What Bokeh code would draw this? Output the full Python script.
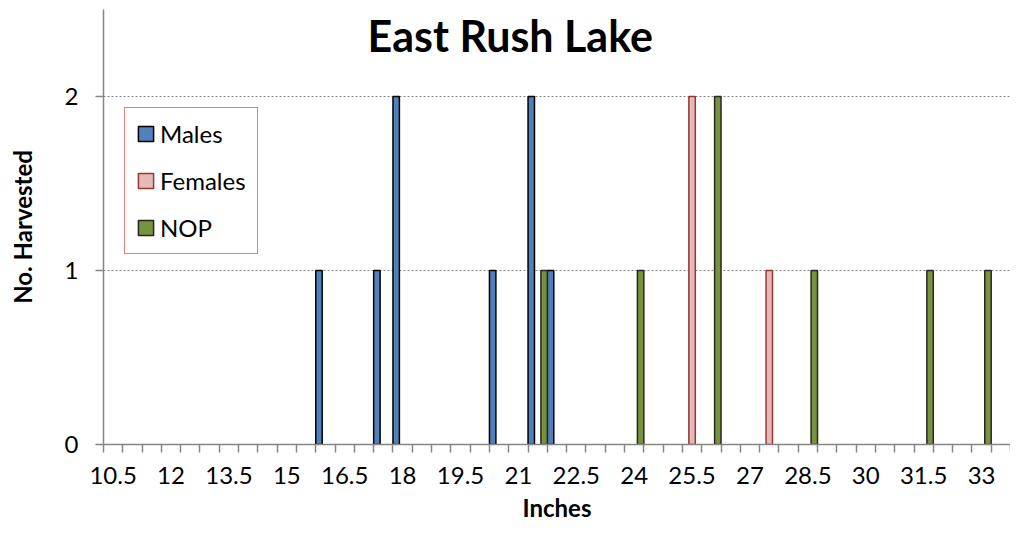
from bokeh.plotting import figure
from bokeh.models import (Range1d, FixedTicker, NumeralTickFormatter, Legend,
                          LegendItem, Label, ColumnDataSource)
from bokeh.embed import file_html
from bokeh.resources import INLINE

# ---------------- data ----------------
title_text = "East Rush Lake"
x_title = "Inches"
y_title = "No. Harvested"

category_step = 0.5          # each category on the axis is half an inch
first_category = 10.5
last_category = 33.5
x_tick_values = [10.5, 12, 13.5, 15, 16.5, 18, 19.5, 21, 22.5, 24, 25.5, 27,
                 28.5, 30, 31.5, 33]
y_tick_values = [0, 1, 2]
y_max = 2.5

series_names = ["Males", "Females", "NOP"]
males_inches = [16, 17.5, 18, 20.5, 21.5, 22]
males_counts = [1, 1, 2, 1, 2, 1]
females_inches = [25.5, 27.5]
females_counts = [2, 1]
nop_inches = [21.5, 24, 26, 28.5, 31.5, 33]
nop_counts = [1, 1, 2, 1, 1, 1]

fill_colors = ["#4F81BD", "#E6B9B8", "#77933C"]
line_colors = ["#000000", "#953735", "#262626"]

FONT = "Lato"
GREY = "#868686"

# ---------------- figure ----------------
x_lo = first_category - category_step / 2
x_hi = last_category + category_step / 2
p = figure(width=1010, height=524,
           x_range=Range1d(x_lo, x_hi), y_range=Range1d(0, y_max),
           output_backend="svg", toolbar_location=None,
           min_border_left=103, min_border_right=0,
           min_border_top=9, min_border_bottom=80)
p.outline_line_color = None
p.background_fill_color = "white"
p.border_fill_color = "white"

bar_w = category_step / 3
data = [(males_inches, males_counts), (females_inches, females_counts),
        (nop_inches, nop_counts)]
renderers = []
for i, (xs, ys) in enumerate(data):
    src = ColumnDataSource(dict(x=[v + (i - 1) * bar_w for v in xs], top=ys))
    r = p.vbar(x="x", top="top", bottom=0, width=bar_w, source=src,
               fill_color=fill_colors[i], line_color=line_colors[i],
               line_width=1.5)
    renderers.append(r)

# ---------------- axes ----------------
n_cat = int(round((last_category - first_category) / category_step)) + 1
boundaries = [x_lo + k * category_step for k in range(n_cat + 1)]

xa = p.xaxis[0]
xa.ticker = FixedTicker(ticks=x_tick_values, minor_ticks=boundaries)
xa.formatter = NumeralTickFormatter(format="0.[0]")
xa.major_tick_out = 0
xa.major_tick_in = 0
xa.minor_tick_out = 8
xa.minor_tick_in = 0
xa.minor_tick_line_color = GREY
xa.minor_tick_line_width = 1.5
xa.axis_line_color = GREY
xa.axis_line_width = 1.5
xa.major_label_text_font = FONT
xa.major_label_text_font_size = "24px"
xa.major_label_text_color = "black"
xa.major_label_standoff = 14
xa.axis_label = x_title
xa.axis_label_text_font = FONT
xa.axis_label_text_font_style = "bold"
xa.axis_label_text_font_size = "24px"
xa.axis_label_text_color = "black"
xa.axis_label_standoff = 6

ya = p.yaxis[0]
ya.ticker = FixedTicker(ticks=y_tick_values)
ya.major_tick_out = 8
ya.major_tick_in = 0
ya.minor_tick_out = 0
ya.minor_tick_in = 0
ya.major_tick_line_color = GREY
ya.major_tick_line_width = 1.5
ya.axis_line_color = GREY
ya.axis_line_width = 1.5
ya.major_label_text_font = FONT
ya.major_label_text_font_size = "24px"
ya.major_label_text_color = "black"
ya.major_label_standoff = 17
ya.axis_label = y_title
ya.axis_label_text_font = FONT
ya.axis_label_text_font_style = "bold"
ya.axis_label_text_font_size = "24px"
ya.axis_label_text_color = "black"
ya.axis_label_standoff = 25

p.xgrid.visible = False
p.ygrid.grid_line_color = GREY
p.ygrid.grid_line_dash = "2 2"
p.ygrid.grid_line_width = 1

# ---------------- title ----------------
x_mid = (x_lo + x_hi) / 2
title = Label(x=x_mid - 1.21, y=2.35, text=title_text, text_font=FONT,
              text_font_style="bold", text_font_size="43px",
              text_align="center", text_baseline="middle",
              text_color="black")
p.add_layout(title)

# ---------------- legend ----------------
legend = Legend(items=[LegendItem(label=n, renderers=[r])
                       for n, r in zip(series_names, renderers)],
                location=(21, 190))
legend.border_line_color = "#C80000"
legend.border_line_width = 1.5
legend.background_fill_color = "white"
legend.background_fill_alpha = 1
legend.padding = 11
legend.spacing = 18
legend.margin = 0
legend.glyph_width = 19
legend.glyph_height = 19
legend.label_standoff = 5
legend.label_height = 28
legend.label_text_font = FONT
legend.label_text_font_size = "24px"
legend.label_text_color = "black"
p.add_layout(legend)

open("out.html", "w").write(file_html(p, INLINE))
